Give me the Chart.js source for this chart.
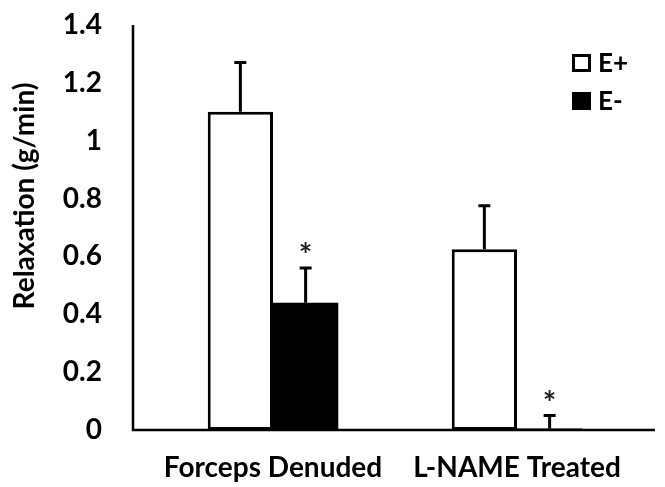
<!DOCTYPE html>
<html>
<head>
<meta charset="utf-8">
<script src="https://cdn.jsdelivr.net/npm/chart.js@4"></script>
<style>
  html, body { margin: 0; padding: 0; background: #fff; }
  #wrap { width: 665px; height: 487px; }
</style>
</head>
<body>
<div id="wrap"><canvas id="chart" width="665" height="487"></canvas></div>
<script>
// data
const categories = ["Forceps Denuded", "L-NAME Treated"];
const seriesNames = ["E+", "E-"];
const ePlus = [1.10, 0.625];
const eMinus = [0.44, 0.005];
const ePlusErr = [0.17, 0.15];
const eMinusErr = [0.12, 0.045];
const ePlusStar = [false, false];
const eMinusStar = [true, true];
const yTicks = [0, 0.2, 0.4, 0.6, 0.8, 1, 1.2, 1.4];
const yTitle = "Relaxation (g/min)";

const FONT = "Lato, 'Open Sans', sans-serif";

// error bars, asterisks, axis lines, y title and legend
const extras = {
  id: "extras",
  afterDatasetsDraw(chart){
    const ctx = chart.ctx;
    const y = chart.scales.y;
    const area = chart.chartArea;
    const errs = [ePlusErr, eMinusErr];
    const stars = [ePlusStar, eMinusStar];
    ctx.save();
    ctx.strokeStyle = "#000";
    ctx.lineWidth = 3;
    chart.data.datasets.forEach((ds, di) => {
      chart.getDatasetMeta(di).data.forEach((bar, i) => {
        const v = ds.data[i];
        const top = y.getPixelForValue(v + errs[di][i]);
        ctx.beginPath();
        ctx.moveTo(bar.x, bar.y);
        ctx.lineTo(bar.x, top);
        ctx.moveTo(bar.x - 6, top);
        ctx.lineTo(bar.x + 6, top);
        ctx.stroke();
        if(stars[di][i]){
          ctx.fillStyle = "#222";
          ctx.font = "bold 32px " + FONT;
          ctx.textAlign = "center";
          ctx.textBaseline = "middle";
          ctx.fillText("*", bar.x, top - 11);
        }
      });
    });
    // axis lines
    const zero = y.getPixelForValue(0);
    ctx.lineWidth = 2.5;
    ctx.beginPath();
    ctx.moveTo(area.left - 18, y.getPixelForValue(1.4));
    ctx.lineTo(area.left - 18, zero);
    ctx.lineTo(area.right + 16, zero);
    ctx.stroke();

    // y title
    ctx.save();
    ctx.translate(25, area.top + 171);
    ctx.rotate(-Math.PI / 2);
    ctx.font = "bold 28px " + FONT;
    ctx.fillStyle = "#000";
    ctx.textAlign = "center";
    ctx.textBaseline = "middle";
    ctx.fillText(yTitle, 0, 0);
    ctx.restore();

    // legend
    ctx.font = "bold 26px " + FONT;
    ctx.textAlign = "left";
    ctx.textBaseline = "middle";
    chart.data.datasets.forEach((ds, di) => {
      const bx = area.right - 67;
      const by = area.top + 29 + di * 38;
      ctx.fillStyle = ds.backgroundColor;
      ctx.fillRect(bx, by, 19, 18);
      ctx.lineWidth = 3;
      ctx.strokeStyle = "#000";
      ctx.strokeRect(bx + 1.5, by + 1.5, 16, 15);
      ctx.fillStyle = "#000";
      ctx.fillText(ds.label, bx + 26, by + 10);
    });
    ctx.restore();
  }
};

new Chart(document.getElementById("chart"), {
  type: "bar",
  data: {
    labels: categories,
    datasets: [
      {
        label: seriesNames[0],
        data: ePlus,
        backgroundColor: "#ffffff",
        borderColor: "#000000",
        borderWidth: 3,
        borderSkipped: false
      },
      {
        label: seriesNames[1],
        data: eMinus,
        backgroundColor: "#000000",
        borderColor: "#000000",
        borderWidth: 0
      }
    ]
  },
  options: {
    responsive: false,
    animation: false,
    devicePixelRatio: 1,
    layout: { padding: { top: 25, right: 26, left: 0, bottom: 0 } },
    datasets: { bar: { categoryPercentage: 0.535, barPercentage: 1 } },
    plugins: { legend: { display: false }, tooltip: { enabled: false } },
    scales: {
      x: {
        grid: { display: false, drawTicks: false },
        border: { display: false },
        ticks: { color: "#000", font: { family: FONT, size: 28, weight: "bold" }, padding: 21, maxRotation: 0 },
        afterFit(s){ s.height = 57; s.paddingLeft = 0; s.paddingRight = 0; }
      },
      y: {
        min: 0,
        max: 1.4,
        afterBuildTicks(s){ s.ticks = yTicks.map(v => ({ value: v })); },
        grid: { display: false, drawTicks: false },
        border: { display: false },
        ticks: {
          color: "#000",
          font: { family: FONT, size: 28, weight: "bold" },
          padding: 49,
          callback: v => String(+v.toFixed(1))
        },
        afterFit(s){ s.width = 151; s.paddingTop = 0; s.paddingBottom = 0; }
      }
    }
  },
  plugins: [extras]
});
</script>
</body>
</html>
